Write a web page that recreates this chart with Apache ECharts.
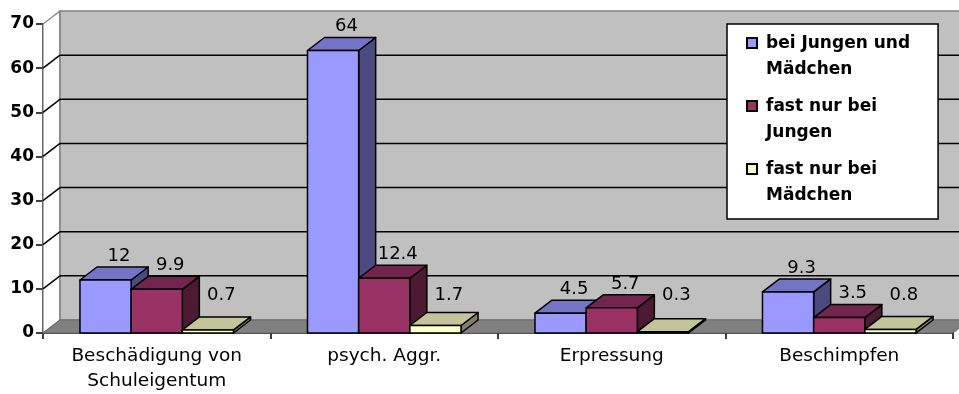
<!DOCTYPE html>
<html>
<head>
<meta charset="utf-8">
<script src="https://cdn.jsdelivr.net/npm/echarts@6/dist/echarts.min.js"></script>
<style>html,body{margin:0;padding:0;background:#fff;}#chart{width:959px;height:394px;}</style>
</head>
<body>
<div id="chart"></div>
<script>
// ---- data ----
const categories = ['Beschädigung von\nSchuleigentum', 'psych. Aggr.', 'Erpressung', 'Beschimpfen'];
const seriesNames = ['bei Jungen und Mädchen', 'fast nur bei Jungen', 'fast nur bei Mädchen'];
const legendLabels = ['bei Jungen und\nMädchen', 'fast nur bei\nJungen', 'fast nur bei\nMädchen'];
const valuesBoth = [12, 64, 4.5, 9.3];
const valuesBoys = [9.9, 12.4, 5.7, 3.5];
const valuesGirls = [0.7, 1.7, 0.3, 0.8];
const yMin = 0, yMax = 70, yStep = 10;

// ---- styles ----
const FONT = 'DejaVu Sans';
const DX = 17, DY = 13;
const faceColors = [
  {front: '#9999FF', top: '#7474C6', side: '#4B4B80'},
  {front: '#993366', top: '#73264D', side: '#4D1A33'},
  {front: '#FFFFCC', top: '#C4C49A', side: '#80806A'}
];
const seriesValues = [valuesBoth, valuesBoys, valuesGirls];

const chart = echarts.init(document.getElementById('chart'), null, {renderer: 'canvas'});

function wallsRender(params, api) {
  const cs = params.coordSys;
  const x0 = cs.x, x1 = cs.x + cs.width, y0 = cs.y + cs.height, yT = cs.y;
  const children = [];
  children.push({type: 'polygon', shape: {points: [[x0, y0], [x0, yT], [x0 + DX, yT - DY], [x0 + DX, y0 - DY]]},
    style: {fill: '#ffffff', stroke: '#808080', lineWidth: 1.2}, z2: 0});
  children.push({type: 'polygon', shape: {points: [[x0 + DX, yT - DY], [x1 + DX, yT - DY], [x1 + DX, y0 - DY], [x0 + DX, y0 - DY]]},
    style: {fill: '#C0C0C0', stroke: '#808080', lineWidth: 1.5}, z2: 1});
  children.push({type: 'polygon', shape: {points: [[x0, y0], [x1, y0], [x1 + DX, y0 - DY], [x0 + DX, y0 - DY]]},
    style: {fill: '#808080', stroke: '#6a6a6a', lineWidth: 1}, z2: 2});
  for (let v = yMin + yStep; v < yMax; v += yStep) {
    const y = api.coord([0, v])[1];
    children.push({type: 'line', shape: {x1: x0 + DX, y1: y - DY, x2: x1 + DX, y2: y - DY},
      style: {stroke: '#000', lineWidth: 1.5}, z2: 3});
    children.push({type: 'line', shape: {x1: x0, y1: y, x2: x0 + DX, y2: y - DY},
      style: {stroke: '#000', lineWidth: 1.5}, z2: 3});
  }
  return {type: 'group', children: children};
}

function barRender(si) {
  return function (params, api) {
    const ci = api.value(0), v = api.value(1);
    const base = api.coord([ci, 0]);
    const top = api.coord([ci, v]);
    const band = api.size([1, 0])[0];
    const bw = band * 0.225;
    const x0 = base[0] - 1.5 * bw + si * bw, x1 = x0 + bw;
    const yb = base[1], yt = top[1];
    const c = faceColors[si];
    const st = {stroke: '#000', lineWidth: 1.5, lineJoin: 'round'};
    const lblY = api.coord([ci, Math.max(v, 3)])[1] - DY - 11;
    return {type: 'group', children: [
      {type: 'polygon', z2: 10 + si * 4, shape: {points: [[x1, yt], [x1 + DX, yt - DY], [x1 + DX, yb - DY], [x1, yb]]},
        style: Object.assign({fill: c.side}, st)},
      {type: 'polygon', z2: 11 + si * 4, shape: {points: [[x0, yt], [x1, yt], [x1 + DX, yt - DY], [x0 + DX, yt - DY]]},
        style: Object.assign({fill: c.top}, st)},
      {type: 'polygon', z2: 12 + si * 4, shape: {points: [[x0, yb], [x0, yt], [x1, yt], [x1, yb]]},
        style: Object.assign({fill: c.front}, st)},
      {type: 'text', z2: 100, style: {text: String(v), x: (x0 + x1) / 2 + DX / 2 + 5, y: lblY,
        align: 'center', verticalAlign: 'middle', fill: '#000', font: '18px "' + FONT + '"'}}
    ]};
  };
}

const series = [{
  type: 'custom', name: 'walls', silent: true, z: 1,
  data: [[0, 0]], renderItem: wallsRender
}];
seriesNames.forEach(function (n, si) {
  series.push({
    type: 'custom', name: n, z: 2,
    itemStyle: {color: faceColors[si].front, borderColor: '#000', borderWidth: 1.5},
    data: seriesValues[si].map(function (v, i) { return [i, v]; }),
    encode: {x: 0, y: 1},
    renderItem: barRender(si)
  });
});

chart.setOption({
  animation: false,
  backgroundColor: '#ffffff',
  grid: {left: 43, right: 6, top: 24, bottom: 61, containLabel: false},
  legend: {
    data: seriesNames, orient: 'vertical', left: 727, top: 24,
    backgroundColor: '#ffffff', borderColor: '#000', borderWidth: 1.5,
    padding: [7, 28, 10, 19], itemGap: 11, itemWidth: 14, itemHeight: 38,
    icon: 'path://M0,0H10V10H0Z M14,38H14Z',
    selectedMode: false,
    formatter: function (name) { return legendLabels[seriesNames.indexOf(name)]; },
    textStyle: {fontFamily: FONT, fontWeight: 'bold', fontSize: 17, lineHeight: 26, color: '#000'}
  },
  xAxis: {
    type: 'category', data: categories, boundaryGap: true,
    axisLine: {lineStyle: {color: '#000', width: 1.5}},
    axisTick: {show: true, length: 6, lineStyle: {color: '#000', width: 1.5}},
    axisLabel: {fontFamily: FONT, fontSize: 18.5, lineHeight: 25, color: '#000', margin: 11, interval: 0},
    splitLine: {show: false}
  },
  yAxis: {
    type: 'value', min: yMin, max: yMax, interval: yStep,
    axisLine: {show: true, lineStyle: {color: '#000', width: 1.5}},
    axisTick: {show: true, length: 7, lineStyle: {color: '#000', width: 1.5}},
    axisLabel: {fontFamily: FONT, fontSize: 17, fontWeight: 'bold', color: '#000', margin: 9},
    splitLine: {show: false}
  },
  series: series
});
</script>
</body>
</html>
